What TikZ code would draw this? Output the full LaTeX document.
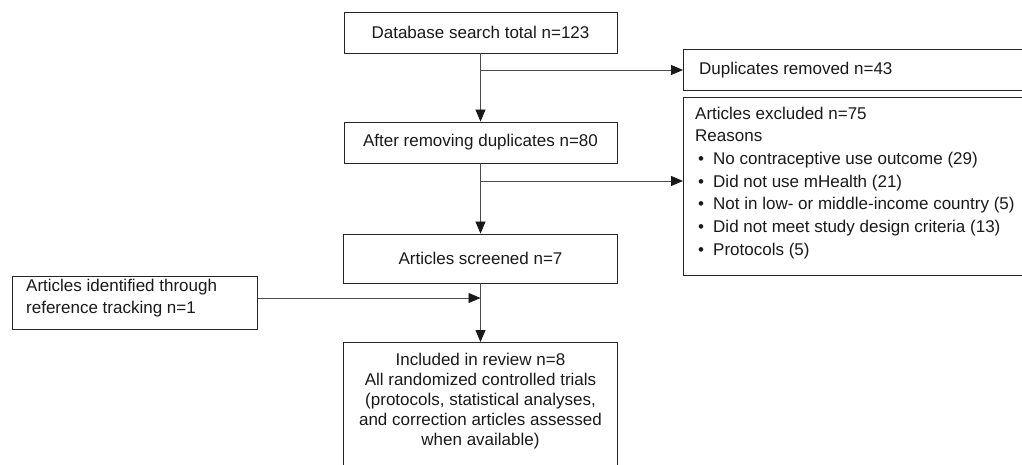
\documentclass[tikz,border=0pt]{standalone}
\usepackage{fontspec}
\setmainfont{Liberation Sans}
\usetikzlibrary{arrows.meta}
\begin{document}
\begin{tikzpicture}[x=1pt,y=1pt]
\tikzset{
  box/.style={draw=black!85, line width=0.9pt, rectangle, inner sep=0pt},
  txt/.style={font=\fontsize{17pt}{20pt}\selectfont, inner sep=0pt, text=black!90},
  conn/.style={draw=black!70, line width=0.8pt, -{Triangle[length=12pt,width=10pt,color=black!90]}},
}
\useasboundingbox (0,0) rectangle (1022,-465);
% main column
\node[box, txt, minimum width=273pt, minimum height=41pt] (b1) at (480.5,-32.5) {Database search total n=123};
\node[box, txt, minimum width=273pt, minimum height=41pt] (b2) at (480.5,-142.5) {After removing duplicates n=80};
\node[box, txt, minimum width=274pt, minimum height=49pt] (b3) at (480.5,-258.5) {Articles screened n=7};
\node[box, minimum width=274pt, minimum height=140pt, anchor=north] (b4) at (480.5,-342) {};
\node[txt, align=center, anchor=north] (b4t) at (480.5,-352.6) {Included in review n=8\\All randomized controlled trials\\(protocols, statistical analyses,\\and correction articles assessed\\when available)};
% right column
\node[box, minimum width=360pt, minimum height=41pt, anchor=north west] (dup) at (683,-49.5) {};
\node[txt, anchor=base west] (dupt) at (699,-74.4) {Duplicates removed n=43};
\node[box, minimum width=360pt, minimum height=178pt, anchor=north west] (excl) at (683,-97) {};
\node[txt, font=\fontsize{17pt}{22.7pt}\selectfont, align=left, anchor=north west] (exclt) at (695,-106.6) {Articles excluded n=75\\Reasons\\
\hspace*{3pt}\makebox[15pt][l]{•}No contraceptive use outcome (29)\\
\hspace*{3pt}\makebox[15pt][l]{•}Did not use mHealth (21)\\
\hspace*{3pt}\makebox[15pt][l]{•}Not in low- or middle-income country (5)\\
\hspace*{3pt}\makebox[15pt][l]{•}Did not meet study design criteria (13)\\
\hspace*{3pt}\makebox[15pt][l]{•}Protocols (5)};
% left box
\node[box, minimum width=245pt, minimum height=53pt, anchor=north west] (left) at (12,-276) {};
\node[txt, font=\fontsize{17pt}{22pt}\selectfont, align=left, anchor=north west] (leftt) at (26,-279) {Articles identified through\\reference tracking n=1};
% connectors
\coordinate (j1) at (480.5,-70);
\coordinate (j2) at (480.5,-181);
\coordinate (j3) at (480.5,-298);
\draw[conn] (b1) -- (b2);
\draw[conn] (j1) -- (j1 -| dup.west);
\draw[conn] (b2) -- (b3);
\draw[conn] (j2) -- (j2 -| excl.west);
\draw[conn] (b3) -- (b4);
\draw[conn] (left.east |- j3) -- (j3);
\end{tikzpicture}
\end{document}
